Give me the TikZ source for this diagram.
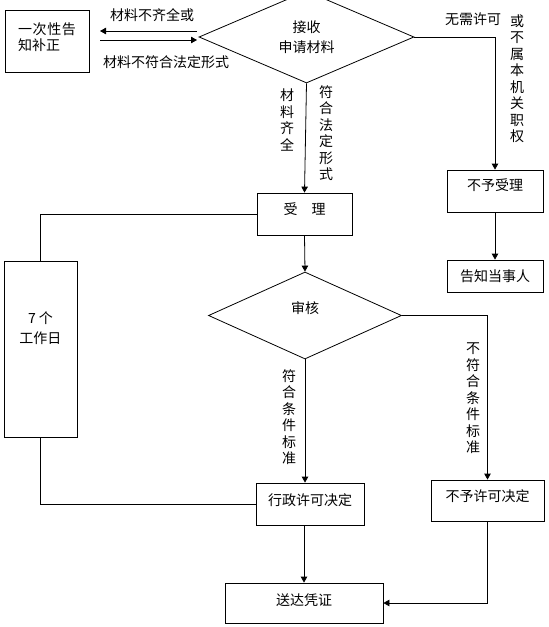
\documentclass[tikz,border=0pt]{standalone}
\usepackage{fontspec}
\setmainfont{Noto Sans CJK SC}
\usetikzlibrary{arrows.meta,shapes.geometric}
\tikzset{
 base/.style={font=\fontsize{14}{16.5}\selectfont, inner sep=0pt},
 box/.style={base, draw, line width=0.8pt, rectangle, align=center},
 dia/.style={base, draw, line width=0.8pt, diamond, align=center},
 conn/.style={line width=0.8pt},
 arr/.style={conn, -{Triangle[length=6pt,width=6.5pt]}},
 txt/.style={base, align=center},
}
\begin{document}
\begin{tikzpicture}[x=1pt,y=-1pt]
\useasboundingbox (0,0) rectangle (549,627);
\clip (0,0) rectangle (549,627);
\fill[white] (0,0) rectangle (549,627);

% boxes
\node[box, minimum width=84pt, minimum height=62pt] (b1) at (47,41) {};
\node[txt, align=left, text width=58pt] (b1t) at ([yshift=4pt]b1.center) {\makebox[58pt][s]{一\hfill 次\hfill 性\hfill 告}\\知补正};
\node[dia, minimum width=215pt, minimum height=92pt, font=\fontsize{14}{20}\selectfont] (d1) at (306.5,37) {接收\\申请材料};
\node[box, minimum width=95pt, minimum height=42pt, text height=6.6pt, text depth=6pt] (sl) at (304.5,214) {受\hspace{14pt}理};
\node[box, minimum width=96pt, minimum height=42pt, text height=4.6pt, text depth=6pt] (by) at (495,191) {不予受理};
\node[box, minimum width=96pt, minimum height=32pt, text height=16.6pt, text depth=6pt] (gz) at (495,276) {告知当事人};
\node[box, minimum width=73pt, minimum height=176pt] (days) at (40.5,349) {};
\node[txt, font=\fontsize{14}{20}\selectfont] (dayst) at ([yshift=21pt]days.center) {7 个\\工作日};
\node[dia, minimum width=193pt, minimum height=87pt, text height=1.6pt, text depth=6pt] (d2) at (305,315.5) {审核};
\node[box, minimum width=108pt, minimum height=42pt, text height=8.6pt, text depth=6pt] (xz) at (310,504) {行政许可决定};
\node[box, minimum width=113pt, minimum height=41pt, text height=7.6pt, text depth=6pt] (bx) at (487.5,500.5) {不予许可决定};
\node[box, minimum width=158pt, minimum height=40pt, text height=10.6pt, text depth=6pt] (sd) at (304,603) {送达凭证};

% labels
\node[txt] (l1) at (152,15) {材料不齐全或};
\node[txt] (l2) at (166,62) {材料不符合法定形式};
\node[txt] (l3) at (287,120) {材\\料\\齐\\全};
\node[txt] (l4) at (326,133) {符\\合\\法\\定\\形\\式};
\node[txt] (l5) at (473,19) {无需许可};
\node[txt] (l6) at (517,78.5) {或\\不\\属\\本\\机\\关\\职\\权};
\node[txt] (l7) at (289,417) {符\\合\\条\\件\\标\\准};
\node[txt] (l8) at (473,398.5) {不\\符\\合\\条\\件\\标\\准};

% connectors
\coordinate (p1) at (197,31);
\coordinate (p2) at (100,31);
\coordinate (p3) at (100,40);
\coordinate (p4) at (197,40);
\draw[arr] (p1) -- (p2);
\draw[arr] (p3) -- (p4);
\draw[arr] (d1.south) -- (sl.north);
\draw[arr] (d1.east) -| (by.north);
\draw[arr] (by.south) -- (gz.north);
\draw[arr] (sl.south) -- (d2.north);
\draw[conn] (sl.west) -| (days.north);
\draw[conn] (days.south) |- (xz.west);
\draw[arr] (d2.south) -- (d2.south |- xz.north);
\draw[arr] (d2.east) -| (bx.north);
\draw[arr] (xz.south -| sd.north) -- (sd.north);
\draw[arr] (bx.south) |- (sd.east);
\end{tikzpicture}
\end{document}
